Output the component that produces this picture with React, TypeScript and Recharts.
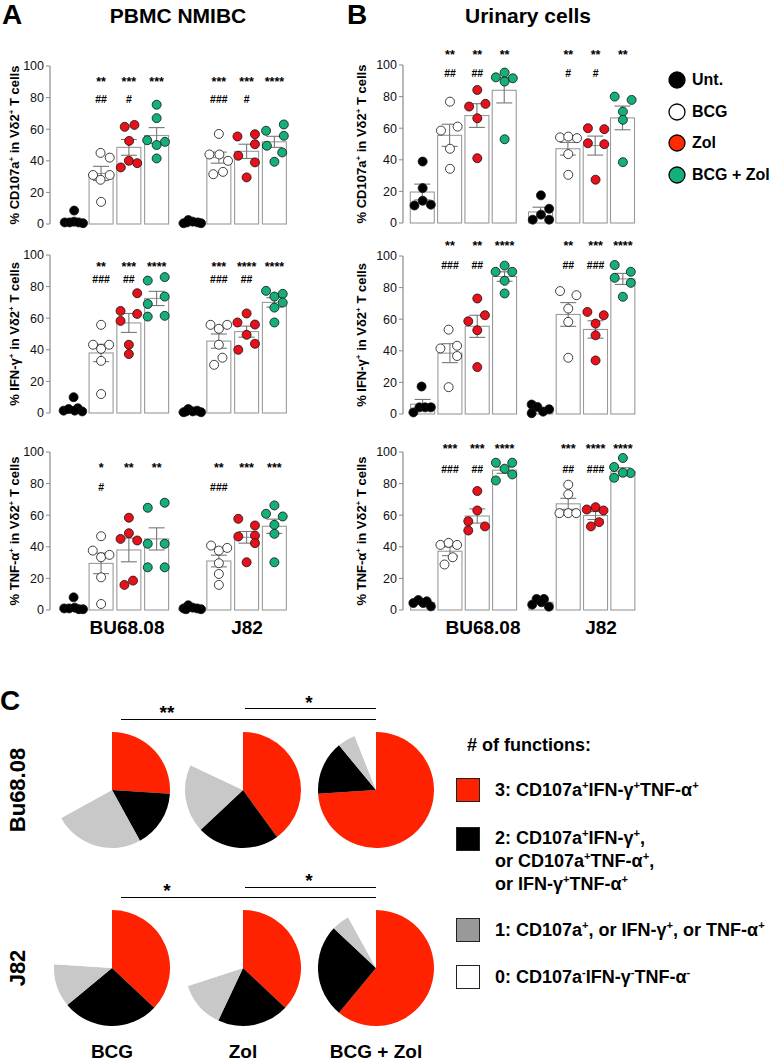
import React from 'react';
import { ComposedChart, Bar, Scatter, XAxis, YAxis, ErrorBar, ReferenceDot, PieChart, Pie, Cell } from 'recharts';

const FONT = '"Liberation Sans", Arial, Helvetica, sans-serif';

// ---------- categories ----------
const cellLines = ['BU68.08', 'J82'];
const treatments = ['Unt.', 'BCG', 'Zol', 'BCG + Zol'];
const dotColors = ['#000000', '#ffffff', '#e8101a', '#14b078'];
const legendColors = ['#000000', '#ffffff', '#ff2a00', '#14b078'];
const yTicks = [0, 20, 40, 60, 80, 100];

// ---------- Panel A: PBMC NMIBC ----------
// order: BU68.08 (Unt, BCG, Zol, BCG+Zol), J82 (Unt, BCG, Zol, BCG+Zol)
const pbmcCd107aMean = [1.5, 32, 48.5, 56, 1, 42, 46, 52];
const pbmcCd107aSem = [1.2, 4.5, 5, 5, 0.5, 3.5, 4.5, 3.5];
const pbmcCd107aDots = [
  [[-0.31, 1], [-0.13, 1], [0.03, 8.5], [0.03, 1.5], [0.19, 1], [0.35, 0.5]],
  [[0, 14], [-0.29, 31], [0.31, 31], [-0.02, 28], [-0.02, 45], [0.31, 42]],
  [[-0.15, 61.5], [0.2, 62.7], [0.01, 52.6], [-0.29, 35.8], [0, 40], [0.3, 38.5]],
  [[0, 75.5], [0, 67], [-0.34, 53], [0.3, 52], [0, 50], [0, 41.5]],
  [[-0.27, 0.5], [-0.1, 2.5], [0.06, 1.5], [0.24, 1], [0.36, 0.5], [-0.15, 1]],
  [[0, 57], [-0.34, 44], [0.02, 44], [0.33, 40], [-0.2, 31.5], [0.15, 33]],
  [[-0.33, 55.4], [0.3, 56.8], [0.3, 50.5], [-0.3, 43.2], [0.3, 39], [0, 29.5]],
  [[-0.3, 59], [0.34, 63], [0.34, 55.8], [-0.27, 49.5], [0.28, 45.3], [0, 39.4]],
];
const pbmcCd107aStars = ['', '**', '***', '***', '', '***', '***', '****'];
const pbmcCd107aHash = ['', '##', '#', '', '', '###', '#', ''];

const pbmcIfngMean = [2, 38, 57, 72.5, 1, 45.5, 51.5, 70];
const pbmcIfngSem = [1.4, 5.5, 6, 4.5, 0.4, 4.5, 3.5, 3];
const pbmcIfngDots = [
  [[-0.35, 1.5], [-0.17, 2.5], [0.01, 10], [0.16, 3], [0.32, 1], [0.05, 1.5]],
  [[0, 55.8], [-0.29, 43.2], [0, 40.6], [0.29, 43.2], [0, 33], [0, 12]],
  [[0.3, 75.8], [-0.3, 64.6], [-0.3, 58.3], [0.3, 62.7], [0, 43.2], [0, 37.3]],
  [[-0.32, 83.8], [0.29, 86], [-0.32, 69], [0.29, 73.7], [-0.32, 61], [0.29, 61.5]],
  [[-0.27, 0.5], [-0.1, 2.5], [0.06, 1], [0.22, 1.5], [0.36, 0.5], [-0.18, 1]],
  [[-0.3, 55.8], [0, 53.3], [0.3, 55.8], [0, 43.2], [-0.17, 30.5], [0.13, 35]],
  [[-0.33, 57.3], [0, 63], [0.3, 56], [0, 49.5], [0.3, 43.8], [-0.3, 40]],
  [[-0.3, 77.3], [0, 73.7], [0.3, 75.4], [0.3, 69.9], [0, 66.7], [0, 57.3]],
];
const pbmcIfngStars = ['', '**', '***', '****', '', '***', '****', '****'];
const pbmcIfngHash = ['', '###', '##', '', '', '###', '##', ''];

const pbmcTnfMean = [1.5, 29.5, 38, 45, 1.2, 31, 46, 53];
const pbmcTnfSem = [1.2, 6.5, 7.5, 7, 0.5, 3.7, 3.7, 4.5];
const pbmcTnfDots = [
  [[-0.33, 1], [-0.15, 1], [0.01, 8], [0.05, 1.5], [0.2, 0.5], [0.35, 0.5]],
  [[0, 46.7], [-0.3, 37.6], [0, 33.4], [0.3, 34.9], [0, 20.7], [0, 3.8]],
  [[0, 58.4], [-0.3, 45], [0, 48.6], [0.3, 44], [-0.16, 15.9], [0.15, 18.6]],
  [[-0.32, 64.7], [0.29, 67.9], [-0.32, 41.9], [0.29, 41.9], [-0.32, 27], [0.29, 27]],
  [[-0.27, 1], [-0.1, 3], [0.06, 1.5], [0.22, 1], [0.36, 0.5], [-0.18, 0.5]],
  [[-0.28, 40.8], [0, 37.6], [0.3, 39.3], [0, 29.6], [0, 22.8], [0, 15.9]],
  [[-0.3, 57.7], [0.3, 53.5], [-0.3, 46.5], [0.3, 47.1], [0.3, 42.3], [0, 30.2]],
  [[0, 66.2], [-0.3, 60.9], [0.3, 59.2], [0, 53.9], [0, 48.2], [0, 30.2]],
];
const pbmcTnfStars = ['', '*', '**', '**', '', '**', '***', '***'];
const pbmcTnfHash = ['', '#', '', '', '', '###', '', ''];

// ---------- Panel B: Urinary cells ----------
const urineCd107aMean = [19.6, 55.5, 68, 84, 7, 47, 49, 66.5];
const urineCd107aSem = [5, 7, 7.5, 8, 3, 4, 6, 7.5];
const urineCd107aDots = [
  [[0, 38.9], [0, 22.1], [0, 14.1], [-0.3, 11.1], [0.3, 11.6]],
  [[0, 76.8], [-0.33, 58.5], [0.28, 61], [0, 47], [0, 34.3]],
  [[0, 84.2], [-0.3, 73.7], [0.3, 75.4], [0, 66.3], [0, 41]],
  [[0, 95.2], [-0.32, 92.2], [0.3, 91.6], [0, 89.5], [0, 53]],
  [[0, 17.5], [0.3, 9], [0, 5.3], [-0.3, 2.1], [0.3, 2.1]],
  [[-0.3, 54.2], [0, 54.7], [0.32, 53.7], [0, 43.6], [0, 30.5]],
  [[-0.28, 60], [0.32, 59.4], [-0.28, 50.5], [0.32, 49.9], [0, 27.4]],
  [[-0.3, 80], [0.32, 77.9], [0, 70.5], [0, 65.3], [0, 38.5]],
];
const urineCd107aStars = ['', '**', '**', '**', '', '**', '**', '**'];
const urineCd107aHash = ['', '##', '##', '', '', '#', '#', ''];

const urineIfngMean = [6.2, 38.5, 55.5, 87, 3.1, 63, 53.5, 85.5];
const urineIfngSem = [3, 6, 7, 3, 1, 7.5, 5.5, 3.5];
const urineIfngDots = [
  [[-0.04, 17.4], [-0.34, 1], [-0.12, 4.2], [0.09, 4.2], [0.3, 4.2]],
  [[-0.05, 53.4], [-0.35, 41.5], [0.26, 43.2], [0.26, 36.7], [-0.05, 17]],
  [[0, 73.1], [-0.33, 58.7], [0.28, 62.5], [0, 53], [0, 29.7]],
  [[0, 93.9], [-0.33, 90], [0.28, 90], [0, 84.3], [0, 76.3]],
  [[-0.34, 6], [-0.13, 4.5], [0.08, 1.5], [0.3, 3], [-0.34, 0.5]],
  [[-0.3, 77.8], [0.3, 75.2], [0, 66.7], [0, 58.3], [0, 35.6]],
  [[-0.3, 64.6], [0.3, 62.5], [0, 57.2], [0, 49.8], [0, 33.9]],
  [[-0.3, 94.3], [0.29, 90], [-0.3, 86.2], [0.29, 83], [0, 74.2]],
];
const urineIfngStars = ['', '**', '**', '****', '', '**', '***', '****'];
const urineIfngHash = ['', '###', '##', '', '', '##', '###', ''];

const urineTnfMean = [4.8, 37.2, 59.5, 88.5, 4.9, 67.2, 59.8, 87.5];
const urineTnfSem = [0.8, 2.8, 4.5, 2, 1, 3.5, 2.5, 2.5];
const urineTnfDots = [
  [[-0.34, 4.4], [-0.16, 6.3], [0.02, 4.4], [0.15, 5.5], [0.3, 2.3]],
  [[-0.35, 41.2], [-0.05, 42.5], [0.26, 41.2], [0.1, 33.4], [-0.2, 28.8]],
  [[0, 75.3], [0, 63], [-0.33, 56.2], [0.28, 52.9], [-0.33, 50.3]],
  [[-0.32, 93.2], [0.28, 93.2], [0, 89.4], [0.28, 85.8], [-0.32, 82]],
  [[-0.32, 3.4], [-0.16, 7], [0.11, 7], [0.02, 4.9], [0.29, 2.1]],
  [[0, 79.3], [0, 73.2], [-0.32, 61.3], [0, 61.3], [0.29, 61.3]],
  [[-0.32, 63.6], [0, 65.1], [0.29, 63], [-0.17, 52.9], [0.13, 55.6]],
  [[0, 96.2], [-0.32, 90.5], [0.28, 86.7], [0, 86.9], [-0.32, 83.7]],
];
const urineTnfStars = ['', '***', '***', '****', '', '***', '****', '****'];
const urineTnfHash = ['', '###', '##', '', '', '##', '###', ''];

// ---------- Panel C: polyfunctionality pies ----------
const functionLabels = ['3', '2', '1', '0'];
const pieColors = ['#ff2200', '#000000', '#c8c8c8', '#ffffff'];
const legendSquareColors = ['#ff2200', '#000000', '#999999', '#ffffff'];
const pieTreatments = ['BCG', 'Zol', 'BCG + Zol'];
const bu68BcgPie = [26, 16, 25, 33];
const bu68ZolPie = [40, 23, 19, 18];
const bu68BcgZolPie = [74, 15, 5, 6];
const j82BcgPie = [37, 27, 12, 24];
const j82ZolPie = [37, 20, 13, 30];
const j82BcgZolPie = [61, 26, 5, 8];
const bu68PieSig = ['**', '*'];
const j82PieSig = ['*', '*'];

// ---------- helpers ----------
const Sup = ({ c }: { c: string }) => (
  <sup style={{ fontSize: '0.62em', verticalAlign: '0.6em', lineHeight: 0 }}>{c}</sup>
);

function Txt({ x, y, size, bold = true, anchor = 'middle', rotate = false, children, color = '#000' }: any) {
  const tx = anchor === 'middle' ? '-50%' : anchor === 'start' ? '0' : '-100%';
  return (
    <div
      style={{
        position: 'absolute', left: x, top: y,
        transform: `translate(${tx},-50%)${rotate ? ' rotate(-90deg)' : ''}`,
        fontSize: size, fontWeight: bold ? 700 : 400, whiteSpace: 'nowrap',
        lineHeight: 1, fontFamily: FONT, color,
      }}
    >
      {children}
    </div>
  );
}

const PLOT_H = 158;
const M_TOP = 50;
const M_BOT = 10;
const BAR_W = 24;
const AXIS_GREY = '#8a8a8a';

const BarShape = (p: any) => {
  const mid = p.x + p.width / 2;
  return (
    <rect x={mid - BAR_W / 2} y={p.y} width={BAR_W} height={Math.max(p.height, 0)}
      fill="#ffffff" stroke="#9a9a9a" strokeWidth={1.1} />
  );
};

function DotChart({ left, plotTop, right, gap, domain, means, sems, dots, stars, hashes, starY, hashY }: any) {
  const pos = (i: number) => 1 + (i % 4) + Math.floor(i / 4) * (4 + gap);
  const barData = means.map((m: number, i: number) => ({
    x: pos(i), mean: m, sem: sems[i], name: `${cellLines[Math.floor(i / 4)]} ${treatments[i % 4]}`,
  }));
  const dotData: any[] = [];
  dots.forEach((grp: number[][], i: number) =>
    grp.forEach(([dx, y]) => dotData.push({ x: pos(i) + dx, y, color: dotColors[i % 4] }))
  );
  const textShape = (label: string, fs: number, shift: number, weight: number) => (p: any) => (
    <text x={p.cx} y={p.cy + shift} textAnchor="middle" fontSize={fs} fontWeight={weight} fontFamily={FONT} fill="#000" stroke="none">
      {label}
    </text>
  );
  return (
    <div style={{ position: 'absolute', left, top: plotTop - M_TOP }}>
      <ComposedChart
        width={300}
        height={M_TOP + PLOT_H + M_BOT}
        data={barData}
        margin={{ top: M_TOP, right, bottom: M_BOT, left: 10 }}
      >
        <XAxis type="number" dataKey="x" domain={domain} tick={false} tickLine={false}
          axisLine={{ stroke: AXIS_GREY, strokeWidth: 1.2 }} height={0} />
        <YAxis type="number" domain={[0, 100]} ticks={yTicks} interval={0} width={40}
          tick={{ fontSize: 12.5, fill: '#111', fontFamily: FONT }} tickSize={4}
          tickLine={{ stroke: AXIS_GREY }} axisLine={{ stroke: AXIS_GREY, strokeWidth: 1.2 }} />
        <Bar dataKey="mean" barSize={BAR_W} shape={BarShape} isAnimationActive={false}>
          <ErrorBar dataKey="sem" width={8} stroke="#777" strokeWidth={1.1} direction="y" />
        </Bar>
        <Scatter data={dotData} dataKey="y" isAnimationActive={false}
          shape={(p: any) => (
            <circle cx={p.cx} cy={p.cy} r={4.5} fill={p.payload.color} stroke="#111" strokeWidth={0.8} />
          )} />
        {stars.map((s: string, i: number) => s ? (
          <ReferenceDot key={'s' + i} x={pos(i)} y={starY} r={0} ifOverflow="visible" shape={textShape(s, 12.5, 7, 700)} />
        ) : null)}
        {hashes.map((s: string, i: number) => s ? (
          <ReferenceDot key={'h' + i} x={pos(i)} y={hashY} r={0} ifOverflow="visible" shape={textShape(s, 10.5, 4, 700)} />
        ) : null)}
      </ComposedChart>
    </div>
  );
}

function PieBox({ cx, cy, values }: any) {
  const data = values.map((v: number, i: number) => ({ name: functionLabels[i], v }));
  return (
    <div style={{ position: 'absolute', left: cx - 62, top: cy - 62 }}>
      <PieChart width={124} height={124}>
        <Pie data={data} dataKey="v" cx="50%" cy="50%" outerRadius={58} startAngle={90} endAngle={-270}
          stroke="none" isAnimationActive={false}>
          {data.map((d: any, i: number) => <Cell key={i} fill={pieColors[i]} />)}
        </Pie>
      </PieChart>
    </div>
  );
}

function HLine({ x1, x2, y }: any) {
  return <div style={{ position: 'absolute', left: x1, top: y - 1, width: x2 - x1, height: 0, borderTop: '1.6px solid #000' }} />;
}

const A_DOMAIN = [0.16, 8.91];
const B_DOMAIN = [0.28, 9.03];
const A_GAP = 0.24;
const B_GAP = 0.33;

const rowsA = [
  { plotTop: 66, means: pbmcCd107aMean, sems: pbmcCd107aSem, dots: pbmcCd107aDots, stars: pbmcCd107aStars, hashes: pbmcCd107aHash, starY: 92, hashY: 79 },
  { plotTop: 255, means: pbmcIfngMean, sems: pbmcIfngSem, dots: pbmcIfngDots, stars: pbmcIfngStars, hashes: pbmcIfngHash, starY: 94, hashY: 85 },
  { plotTop: 452, means: pbmcTnfMean, sems: pbmcTnfSem, dots: pbmcTnfDots, stars: pbmcTnfStars, hashes: pbmcTnfHash, starY: 92, hashY: 78 },
];
const rowsB = [
  { plotTop: 65, means: urineCd107aMean, sems: urineCd107aSem, dots: urineCd107aDots, stars: urineCd107aStars, hashes: urineCd107aHash, starY: 108, hashY: 95 },
  { plotTop: 256, means: urineIfngMean, sems: urineIfngSem, dots: urineIfngDots, stars: urineIfngStars, hashes: urineIfngHash, starY: 108, hashY: 94 },
  { plotTop: 452, means: urineTnfMean, sems: urineTnfSem, dots: urineTnfDots, stars: urineTnfStars, hashes: urineTnfHash, starY: 104, hashY: 89 },
];

const yTitles = [
  <>% CD107a<Sup c="+" /> in Vδ2<Sup c="+" /> T cells</>,
  <>% IFN-γ<Sup c="+" /> in Vδ2<Sup c="+" /> T cells</>,
  <>% TNF-α<Sup c="+" /> in Vδ2<Sup c="+" /> T cells</>,
];

export default function App() {
  return (
    <div style={{ position: 'absolute', left: 0, top: 0, width: 783, height: 1062, background: '#fff', fontFamily: FONT, overflow: 'hidden' }}>
      {/* Panel letters and titles */}
      <Txt x={2} y={15} size={28} anchor="start">A</Txt>
      <Txt x={178} y={15} size={21}>PBMC NMIBC</Txt>
      <Txt x={347} y={15} size={28} anchor="start">B</Txt>
      <Txt x={528} y={15} size={21}>Urinary cells</Txt>

      {rowsA.map((r, k) => (
        <React.Fragment key={'a' + k}>
          <DotChart left={0} right={7} gap={A_GAP} domain={A_DOMAIN} {...r} />
          <Txt x={14} y={r.plotTop + PLOT_H / 2} size={13} rotate>{yTitles[k]}</Txt>
        </React.Fragment>
      ))}
      {rowsB.map((r, k) => (
        <React.Fragment key={'b' + k}>
          <DotChart left={353} right={11} gap={B_GAP} domain={B_DOMAIN} {...r} />
          <Txt x={361} y={r.plotTop + PLOT_H / 2} size={13} rotate>{yTitles[k]}</Txt>
        </React.Fragment>
      ))}

      {/* group labels */}
      <Txt x={127} y={627} size={19}>{cellLines[0]}</Txt>
      <Txt x={247} y={627} size={19}>{cellLines[1]}</Txt>
      <Txt x={483} y={627} size={19}>{cellLines[0]}</Txt>
      <Txt x={601} y={627} size={19}>{cellLines[1]}</Txt>

      {/* legend B */}
      {treatments.map((t, i) => (
        <React.Fragment key={'lg' + i}>
          <svg style={{ position: 'absolute', left: 668, top: 71 + i * 31.7 }} width={18} height={18}>
            <circle cx={9} cy={9} r={8} fill={legendColors[i]} stroke="#000" strokeWidth={1.3} />
          </svg>
          <Txt x={692} y={80 + i * 31.7} size={16} anchor="start">{t}</Txt>
        </React.Fragment>
      ))}

      {/* Panel C */}
      <Txt x={0} y={701} size={28} anchor="start">C</Txt>
      <HLine x1={121} x2={376} y={720} />
      <HLine x1={245} x2={376} y={709} />
      <Txt x={167} y={712} size={19}>{bu68PieSig[0]}</Txt>
      <Txt x={309} y={702} size={19}>{bu68PieSig[1]}</Txt>
      <HLine x1={121} x2={376} y={898} />
      <HLine x1={245} x2={376} y={888} />
      <Txt x={167} y={890} size={19}>{j82PieSig[0]}</Txt>
      <Txt x={309} y={880} size={19}>{j82PieSig[1]}</Txt>

      <PieBox cx={112} cy={790} values={bu68BcgPie} />
      <PieBox cx={243} cy={790} values={bu68ZolPie} />
      <PieBox cx={376} cy={790} values={bu68BcgZolPie} />
      <PieBox cx={112} cy={968} values={j82BcgPie} />
      <PieBox cx={243} cy={968} values={j82ZolPie} />
      <PieBox cx={376} cy={968} values={j82BcgZolPie} />

      <Txt x={18} y={790} size={22} rotate>Bu68.08</Txt>
      <Txt x={18} y={968} size={22} rotate>J82</Txt>
      <Txt x={112} y={1051} size={19}>{pieTreatments[0]}</Txt>
      <Txt x={243} y={1051} size={19}>{pieTreatments[1]}</Txt>
      <Txt x={376} y={1051} size={19}>{pieTreatments[2]}</Txt>

      {/* legend C */}
      <Txt x={467} y={745} size={18} anchor="start"># of functions:</Txt>
      {legendSquareColors.map((c, i) => (
        <div key={'sq' + i} style={{ position: 'absolute', left: 456, top: [778, 827, 918, 965][i], width: 22, height: 22, background: c, border: '1.5px solid #222' }} />
      ))}
      <Txt x={495} y={790} size={18} anchor="start">{functionLabels[0]}: CD107a<Sup c="+" />IFN-γ<Sup c="+" />TNF-α<Sup c="+" /></Txt>
      <Txt x={495} y={838} size={18} anchor="start">{functionLabels[1]}: CD107a<Sup c="+" />IFN-γ<Sup c="+" />,</Txt>
      <Txt x={495} y={861} size={18} anchor="start">or CD107a<Sup c="+" />TNF-α<Sup c="+" />,</Txt>
      <Txt x={495} y={884} size={18} anchor="start">or IFN-γ<Sup c="+" />TNF-α<Sup c="+" /></Txt>
      <Txt x={495} y={930} size={18} anchor="start">{functionLabels[2]}: CD107a<Sup c="+" />, or IFN-γ<Sup c="+" />, or TNF-α<Sup c="+" /></Txt>
      <Txt x={495} y={977} size={18} anchor="start">{functionLabels[3]}: CD107a<Sup c="-" />IFN-γ<Sup c="-" />TNF-α<Sup c="-" /></Txt>
    </div>
  );
}
